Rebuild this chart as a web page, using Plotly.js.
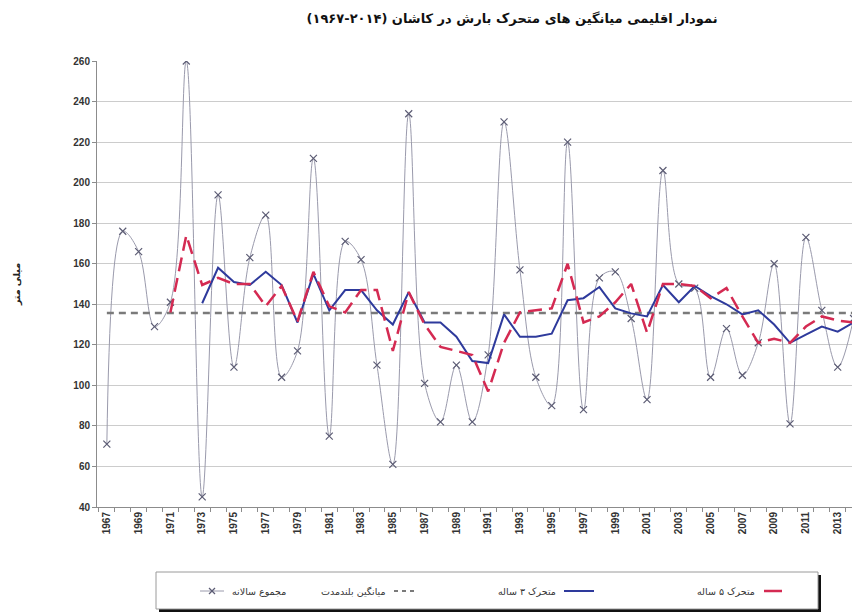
<!DOCTYPE html>
<html>
<head>
<meta charset="utf-8">
<script src="https://cdn.plot.ly/plotly-3.0.1.min.js"></script>
<style>html,body{margin:0;padding:0;background:#fff;overflow:hidden}#chart{width:852px;height:613px}</style>
</head>
<body>
<div id="chart"></div>
<script>
// ---------- data ----------
const years = [1967,1968,1969,1970,1971,1972,1973,1974,1975,1976,1977,1978,1979,1980,1981,1982,1983,1984,1985,1986,1987,1988,1989,1990,1991,1992,1993,1994,1995,1996,1997,1998,1999,2000,2001,2002,2003,2004,2005,2006,2007,2008,2009,2010,2011,2012,2013,2014];
const annualTotal = [71,176,166,129,141,260,45,194,109,163,184,104,117,212,75,171,162,110,61,234,101,82,110,82,115,230,157,104,90,220,88,153,156,133,93,206,150,148,104,128,105,121,160,81,173,137,109,133];
const ma3Years = [1973,1974,1975,1976,1977,1978,1979,1980,1981,1982,1983,1984,1985,1986,1987,1988,1989,1990,1991,1992,1993,1994,1995,1996,1997,1998,1999,2000,2001,2002,2003,2004,2005,2006,2007,2008,2009,2010,2011,2012,2013,2014];
const ma3Values = [140.5,158,151,149.5,156,149.5,131,155,137,147,147,137,130,146,131,131,124,112,111,135,124,124,125.5,142,143,148.5,138,135.5,134,149.5,141,149,144,140,135,137,130,121,125,129,126.5,131];
const ma5Years = [1971,1972,1973,1974,1975,1976,1977,1978,1979,1980,1981,1982,1983,1984,1985,1986,1987,1988,1989,1990,1991,1992,1993,1994,1995,1996,1997,1998,1999,2000,2001,2002,2003,2004,2005,2006,2007,2008,2009,2010,2011,2012,2013,2014];
const ma5Values = [136,174,149.5,153,150,150,139,149,131.5,156,139,136,147,147,117,146,130,119,117,115,97,121,136,137,138,160,131,134,141,150,126,150,150,149,143,148,134,121,123,121,129,134,132,131];
const meanYears = [1967,2014];
const longTermMean = 135.7;
const xTickYears = [1967,1969,1971,1973,1975,1977,1979,1981,1983,1985,1987,1989,1991,1993,1995,1997,1999,2001,2003,2005,2007,2009,2011,2013];
const yTicks = [40,60,80,100,120,140,160,180,200,220,240,260];
const seriesNames = ["مجموع سالانه","میانگین بلندمدت","متحرک ۳ ساله","متحرک ۵ ساله"];
const chartTitle = "نمودار اقلیمی میانگین های متحرک بارش در کاشان (۲۰۱۴-۱۹۶۷)";
const yTitle = "میلی متر";

// ---------- layout helpers ----------
const W = 852, H = 613, ML = 97, MR = 0, MT = 61, MB = 106;
const PW = W - ML - MR, PH = H - MT - MB;
const px = x => (x - ML) / PW;
const py = y => (H - MB - y) / PH;
const faFont = "DejaVu Sans, Noto Sans, sans-serif";

const traces = [
  {x: years, y: annualTotal, name: seriesNames[0], type: 'scatter', mode: 'lines+markers',
   line: {color: '#9a9aac', width: 1, shape: 'spline', smoothing: 1},
   marker: {symbol: 'x-thin', size: 7, line: {color: '#5c5c74', width: 1.2}, color: '#5c5c74'}},
  {x: meanYears, y: meanYears.map(() => longTermMean), name: seriesNames[1], type: 'scatter', mode: 'lines',
   line: {color: '#7a7a7a', width: 2.5, dash: '7px,5px'}},
  {x: ma3Years, y: ma3Values, name: seriesNames[2], type: 'scatter', mode: 'lines',
   line: {color: '#2e3a9c', width: 2}},
  {x: ma5Years, y: ma5Values, name: seriesNames[3], type: 'scatter', mode: 'lines',
   line: {color: '#d42a52', width: 2.5, dash: '14px,7px'}}
];

// custom legend (RTL order as in the reference)
const legY = 591;
const shapes = [
  {type:'rect', xref:'paper', yref:'paper', x0:px(159), x1:px(821), y0:py(575), y1:py(612), fillcolor:'#111', line:{width:0}, layer:'above'},
  {type:'rect', xref:'paper', yref:'paper', x0:px(156), x1:px(818), y0:py(572), y1:py(609), fillcolor:'#fff', line:{color:'#9a9a9a', width:1}, layer:'above'},
  {type:'line', xref:'paper', yref:'paper', x0:px(200), x1:px(224), y0:py(legY), y1:py(legY), line:{color:'#9a9aac', width:1}, layer:'above'},
  {type:'line', xref:'paper', yref:'paper', x0:px(209), x1:px(215), y0:py(legY-3), y1:py(legY+3), line:{color:'#5c5c74', width:1.2}, layer:'above'},
  {type:'line', xref:'paper', yref:'paper', x0:px(209), x1:px(215), y0:py(legY+3), y1:py(legY-3), line:{color:'#5c5c74', width:1.2}, layer:'above'},
  {type:'line', xref:'paper', yref:'paper', x0:px(394), x1:px(418), y0:py(legY), y1:py(legY), line:{color:'#7a7a7a', width:2, dash:'4px,4px'}, layer:'above'},
  {type:'line', xref:'paper', yref:'paper', x0:px(564), x1:px(594), y0:py(legY), y1:py(legY), line:{color:'#2e3a9c', width:2}, layer:'above'},
  {type:'line', xref:'paper', yref:'paper', x0:px(764), x1:px(782), y0:py(legY), y1:py(legY), line:{color:'#d42a52', width:2.5}, layer:'above'}
];
const legFont = {family: faFont, size: 9.5, color: '#333'};
const annotations = [
  {xref:'paper', yref:'paper', x:px(230), y:py(legY), xanchor:'left', yanchor:'middle', text:seriesNames[0], showarrow:false, font:legFont},
  {xref:'paper', yref:'paper', x:px(388), y:py(legY), xanchor:'right', yanchor:'middle', text:seriesNames[1], showarrow:false, font:legFont},
  {xref:'paper', yref:'paper', x:px(558), y:py(legY), xanchor:'right', yanchor:'middle', text:seriesNames[2], showarrow:false, font:legFont},
  {xref:'paper', yref:'paper', x:px(757), y:py(legY), xanchor:'right', yanchor:'middle', text:seriesNames[3], showarrow:false, font:legFont}
];

const layout = {
  width: W, height: H,
  margin: {l: ML, r: MR, t: MT, b: MB, pad: 0},
  paper_bgcolor: '#fff', plot_bgcolor: '#fff',
  showlegend: false,
  title: {text: chartTitle + '\u200F', x: 0.601, xanchor: 'center', y: 1 - 18/H, yanchor: 'middle', yref: 'container',
          font: {family: faFont, size: 13, color: '#111', weight: 'bold'}},
  xaxis: {
    range: [1966.38, 2013.9], tickmode: 'array', tickvals: xTickYears, ticktext: xTickYears.map(String),
    tickangle: -90, ticks: '', showgrid: false, zeroline: false,
    showline: true, linecolor: '#8c8c8c', linewidth: 1,
    tickfont: {family: 'Liberation Sans, Arial, sans-serif', size: 10, color: '#333', weight: 'bold'},
    minor: {tickmode: 'linear', tick0: 1966.5, dtick: 1, ticks: 'outside', ticklen: 4, tickcolor: '#8c8c8c', showgrid: false}
  },
  yaxis: {
    range: [40, 260], tickmode: 'array', tickvals: yTicks, ticks: 'outside', ticklen: 4, tickcolor: '#8c8c8c',
    showgrid: true, gridcolor: '#cccccc', gridwidth: 1, zeroline: false,
    showline: true, linecolor: '#8c8c8c', linewidth: 1,
    tickfont: {family: 'Liberation Sans, Arial, sans-serif', size: 10, color: '#333', weight: 'bold'},
    title: {text: yTitle, standoff: 50, font: {family: faFont, size: 9.5, color: '#222', weight: 'bold'}}
  },
  shapes: shapes,
  annotations: annotations
};

Plotly.newPlot('chart', traces, layout, {staticPlot: true, displayModeBar: false});
</script>
</body>
</html>
